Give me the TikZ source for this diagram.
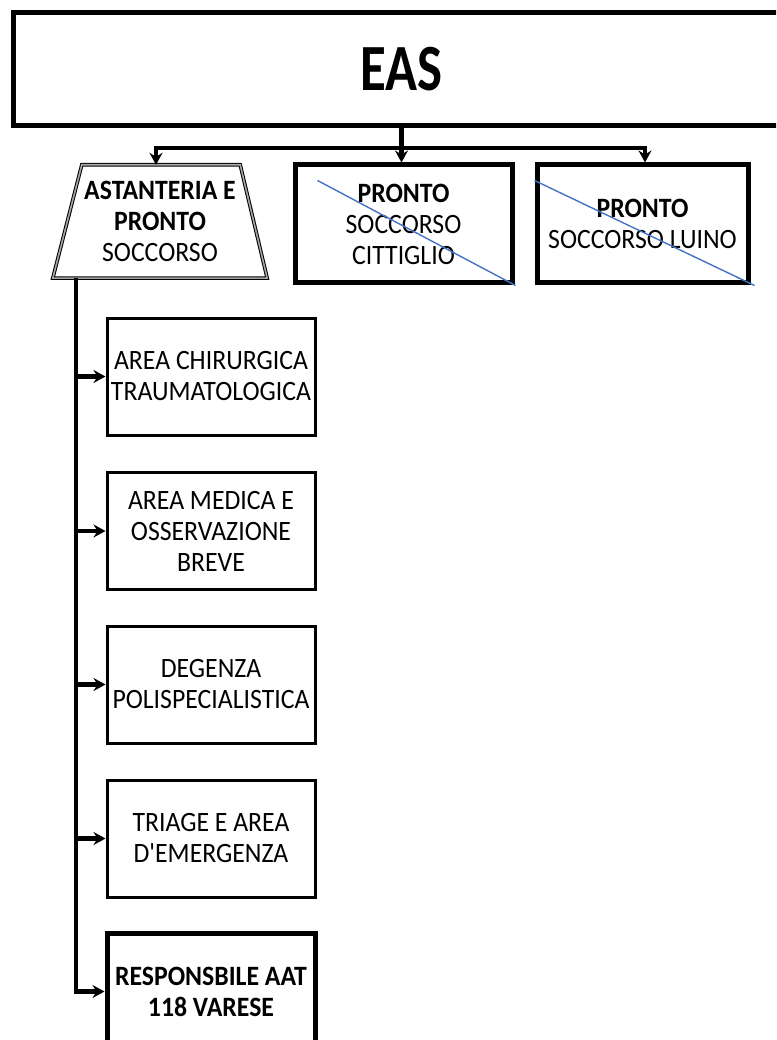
\documentclass[tikz,border=0pt]{standalone}
\usepackage{fontspec}
\newfontfamily\cf{Carlito}[FakeStretch=0.92]
\newfontfamily\cfw{Carlito}[FakeStretch=0.8]
\usetikzlibrary{arrows.meta,calc}
\tikzset{
  conn/.style={line width=4.5pt,-{Stealth[length=12pt,width=13pt,inset=4pt]}},
  trunk/.style={line width=4.5pt},
  txt/.style={font=\cf\fontsize{28}{31}\selectfont},
  box/.style={draw,line width=3pt,minimum width=208pt,minimum height=117pt,align=center,inner sep=0pt,txt},
  topbox/.style={draw,line width=5pt,minimum height=118pt,align=center,inner sep=0pt,txt},
  cross/.style={line width=1.4pt,color={rgb,255:red,68;green,114;blue,196}},
}
\begin{document}
\begin{tikzpicture}[x=1pt,y=-1pt]
\useasboundingbox (0,0) rectangle (776,1040);
\clip (0,0) rectangle (776,1040);
% EAS
\node[draw,line width=5pt,minimum width=777pt,minimum height=113pt,inner sep=0pt] (eas) at (401.5,69.5)
  {\cfw\fontsize{66}{66}\selectfont\bfseries EAS};
% trapezoid
\node[minimum width=214pt,minimum height=113pt,inner sep=0pt,align=center,txt] (trap) at (160,221.5)
  {\textbf{ASTANTERIA E}\\\textbf{PRONTO}\\SOCCORSO};
\draw[line width=1pt,double=gray!70,double distance=1.6pt]
  ($(trap.north west)+(29,0)$) -- ($(trap.north east)+(-27,0)$) -- (trap.south east) -- (trap.south west) -- cycle;
% top boxes
\node[topbox,minimum width=217pt] (ps1) at (403.5,224)
  {\textbf{PRONTO}\\SOCCORSO\\CITTIGLIO};
\node[topbox,minimum width=211pt] (ps2) at (642.5,224)
  {\textbf{PRONTO}\\SOCCORSO LUINO};
\draw[cross] ($(ps1.north west)+(25,18)$) -- ($(ps1.south east)+(1,0)$);
\draw[cross] ($(ps2.north west)+(0,18)$) -- ($(ps2.south east)+(4,0)$);
% top connectors
\coordinate (j) at (401.5,148);
\draw[trunk] (eas.south) -- (j);
\draw[conn] (j) -| ($(trap.north)+(-4,0)$);
\draw[conn] (j) -- (ps1.north -| j);
\draw[conn] (j) -| ($(ps2.north)+(2.5,0)$);
% left boxes
\node[box] (b1) at (211,376.5) {AREA CHIRURGICA\\TRAUMATOLOGICA};
\node[box] (b2) at (211,531) {AREA MEDICA E\\OSSERVAZIONE\\BREVE};
\node[box] (b3) at (211,684.5) {DEGENZA\\POLISPECIALISTICA};
\node[box] (b4) at (211,838.5) {TRIAGE E AREA\\D'EMERGENZA};
\node[box,line width=5pt] (b5) at (211,991.5) {\textbf{RESPONSBILE AAT}\\\textbf{118 VARESE}};
% left trunk
\coordinate (t0) at (76,278);
\draw[conn] (t0) |- (b5.west);
\foreach \b in {b1,b2,b3,b4}{
  \draw[conn] (t0 |- \b.west) -- (\b.west);
}
\end{tikzpicture}
\end{document}
